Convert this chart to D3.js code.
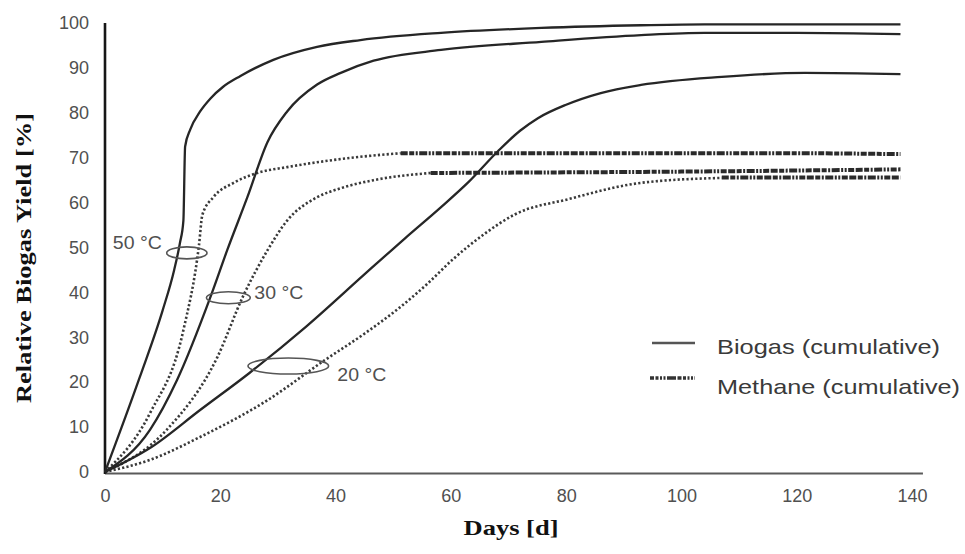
<!DOCTYPE html>
<html>
<head>
<meta charset="utf-8">
<script src="https://cdn.jsdelivr.net/npm/d3@7"></script>
<style>
  body { margin: 0; background: #fff; }
  svg { display: block; }
</style>
</head>
<body>
<div id="chart"></div>
<script>
// ---- data ----
const xTicks = [0, 20, 40, 60, 80, 100, 120, 140];
const yTicks = [0, 10, 20, 30, 40, 50, 60, 70, 80, 90, 100];

// biogas (solid)
const biogas50Days = [0, 6, 10, 12, 13, 13.6, 13.9, 14.8, 16.5, 18.3, 20.5, 23.5, 29.2, 36.8, 44.3, 58.3, 75.7, 93, 104, 138];
const biogas50 = [0, 21, 36, 45, 51, 56, 72.5, 76.3, 80.3, 83.2, 85.8, 88.2, 91.8, 94.7, 96.2, 97.8, 98.9, 99.5, 99.7, 99.7];
const biogas30Days = [0, 7.8, 12.5, 18.3, 21.2, 24.7, 28.2, 31.6, 36.8, 40.9, 46.6, 58.3, 75.7, 93, 104, 120, 138];
const biogas30 = [0, 9.4, 20.5, 39, 49.4, 61.2, 73.5, 80.3, 86.3, 88.9, 91.6, 94, 95.8, 97.3, 97.8, 97.8, 97.5];
const biogas20Days = [0, 8, 16.5, 25, 35, 45, 52, 58.3, 63, 68.2, 72, 75.1, 80, 86, 93, 107, 121.4, 138];
const biogas20 = [0, 5.5, 13.8, 22, 32.5, 44, 52, 59, 64.5, 71.5, 76, 78.8, 81.8, 84.4, 86.2, 88, 88.9, 88.6];

// methane (dotted part, then dash-dot tail)
const methane50Days = [0, 7.8, 13.6, 16.3, 16.9, 18.8, 22.3, 26.4, 31.6, 39.7, 44.3, 51.3];
const methane50 = [0, 13.1, 31.6, 50.5, 57.3, 61.2, 64.4, 66.6, 67.9, 69.5, 70.2, 71];
const methane50TailDays = [51.3, 118, 138];
const methane50Tail = [71, 71, 70.8];
const methane30Days = [0, 10.7, 19.5, 23.9, 28.2, 31.6, 36.8, 40.9, 46.6, 56.5];
const methane30 = [0, 9.4, 25.6, 39, 49.4, 56, 61.2, 63.2, 65, 66.6];
const methane30TailDays = [56.5, 100, 138];
const methane30Tail = [66.6, 66.9, 67.4];
const methane20Days = [0, 7.8, 16.5, 28.2, 38, 45, 51, 56, 60.3, 65.8, 71, 80.5, 93, 107];
const methane20 = [0, 2.7, 7.8, 16, 24.8, 30.8, 36.5, 42, 47.3, 53, 57.3, 60.8, 64.4, 65.5];
const methane20TailDays = [107, 138];
const methane20Tail = [65.6, 65.6];

// temperature groups: label, ellipse centre (day, %), half width in days
const tempLabels = ["50 °C", "30 °C", "20 °C"];
const tempDay = [14.2, 21.4, 31.8];
const tempValue = [48.8, 38.8, 23.6];
const tempHalfDays = [3.5, 3.8, 7];

const legendLabels = ["Biogas (cumulative)", "Methane (cumulative)"];

// ---- drawing ----
const width = 965, height = 554;
const svg = d3.select("#chart").append("svg")
  .attr("width", width)
  .attr("height", height);

const x = d3.scaleLinear().domain([0, 140]).range([105, 912]);
const y = d3.scaleLinear().domain([0, 100]).range([472, 23]);

const line = d3.line()
  .x(d => x(d[0]))
  .y(d => y(d[1]))
  .curve(d3.curveMonotoneX);

const zip = (a, b) => a.map((v, i) => [v, b[i]]);

const dashDot = "7,1.5,5,1.5,2,1.5,8,1.5,2,1.5,2,1.5,6,1.5";

// axes
const yAxis = d3.axisLeft(y).tickValues(yTicks).tickSize(0).tickPadding(16);
const gy = svg.append("g").attr("transform", `translate(${x(0)},0)`).call(yAxis);
gy.select(".domain").remove();
gy.selectAll("text")
  .attr("font-family", "Liberation Sans, Arial, sans-serif")
  .attr("font-size", 18)
  .attr("fill", "#505050");

const xAxis = d3.axisBottom(x).tickValues(xTicks).tickSize(0).tickPadding(17);
const gx = svg.append("g").attr("transform", `translate(0,${y(0)})`).call(xAxis);
gx.select(".domain").remove();
gx.selectAll("text")
  .attr("font-family", "Liberation Sans, Arial, sans-serif")
  .attr("font-size", 18)
  .attr("fill", "#505050");

svg.append("line")
  .attr("x1", x(0)).attr("x2", x(141.9))
  .attr("y1", y(0) + 1.5).attr("y2", y(0) + 1.5)
  .attr("stroke", "#5a5a5a").attr("stroke-width", 2.2);
svg.append("line")
  .attr("x1", x(0)).attr("x2", x(0))
  .attr("y1", y(0) + 2).attr("y2", y(100))
  .attr("stroke", "#161616").attr("stroke-width", 2.6);

// curves
const solid = [zip(biogas50Days, biogas50), zip(biogas30Days, biogas30), zip(biogas20Days, biogas20)];
const dotted = [zip(methane50Days, methane50), zip(methane30Days, methane30), zip(methane20Days, methane20)];
const tails = [zip(methane50TailDays, methane50Tail), zip(methane30TailDays, methane30Tail), zip(methane20TailDays, methane20Tail)];

svg.append("g").selectAll("path").data(dotted).join("path")
  .attr("d", line)
  .attr("fill", "none")
  .attr("stroke", "#3a3a3a")
  .attr("stroke-width", 2.6)
  .attr("stroke-dasharray", "2.2,2.2");

svg.append("g").selectAll("path").data(tails).join("path")
  .attr("d", line)
  .attr("fill", "none")
  .attr("stroke", "#2a2a2a")
  .attr("stroke-width", 4)
  .attr("stroke-dasharray", dashDot);

svg.append("g").selectAll("path").data(solid).join("path")
  .attr("d", line)
  .attr("fill", "none")
  .attr("stroke", "#262626")
  .attr("stroke-width", 2.3)
  .attr("stroke-linejoin", "round");

// temperature ellipses and labels
const ry = [6, 6, 8];
svg.append("g").selectAll("ellipse").data(tempLabels).join("ellipse")
  .attr("cx", (d, i) => x(tempDay[i]))
  .attr("cy", (d, i) => y(tempValue[i]))
  .attr("rx", (d, i) => x(tempHalfDays[i]) - x(0))
  .attr("ry", (d, i) => ry[i])
  .attr("fill", "none")
  .attr("stroke", "#555")
  .attr("stroke-width", 1.6);

const labelDx = [-74, 26, 49];
const labelDy = [-10, -5, 9];
svg.append("g").selectAll("text").data(tempLabels).join("text")
  .attr("x", (d, i) => x(tempDay[i]) + labelDx[i])
  .attr("y", (d, i) => y(tempValue[i]) + labelDy[i])
  .attr("dominant-baseline", "central")
  .attr("font-family", "Liberation Sans, Arial, sans-serif")
  .attr("font-size", 18)
  .attr("fill", "#505050")
  .attr("textLength", 49)
  .attr("lengthAdjust", "spacingAndGlyphs")
  .text(d => d);

// legend
const legend = svg.append("g");
legend.append("line")
  .attr("x1", 652).attr("x2", 695).attr("y1", 343).attr("y2", 343)
  .attr("stroke", "#555").attr("stroke-width", 2.6);
legend.append("line")
  .attr("x1", 650).attr("x2", 695).attr("y1", 378).attr("y2", 378)
  .attr("stroke", "#333").attr("stroke-width", 3.4)
  .attr("stroke-dasharray", "4,1.5,3,1.5,2,1.5,2,1.5,9,1.5");
legend.selectAll("text").data(legendLabels).join("text")
  .attr("x", 717)
  .attr("y", (d, i) => 346 + i * 40)
  .attr("dominant-baseline", "central")
  .attr("font-family", "Liberation Sans, Arial, sans-serif")
  .attr("font-size", 21)
  .attr("fill", "#3a3a3a")
  .attr("textLength", (d, i) => [223, 243][i])
  .attr("lengthAdjust", "spacingAndGlyphs")
  .text(d => d);

// axis titles
svg.append("text")
  .attr("transform", "translate(31,258) rotate(-90)")
  .attr("text-anchor", "middle")
  .attr("font-family", "Liberation Serif, Times New Roman, serif")
  .attr("font-weight", "bold")
  .attr("font-size", 22)
  .attr("fill", "#111")
  .attr("textLength", 290)
  .attr("lengthAdjust", "spacingAndGlyphs")
  .text("Relative Biogas Yield [%]");

svg.append("text")
  .attr("x", 511)
  .attr("y", 535)
  .attr("text-anchor", "middle")
  .attr("font-family", "Liberation Serif, Times New Roman, serif")
  .attr("font-weight", "bold")
  .attr("font-size", 21)
  .attr("fill", "#111")
  .attr("textLength", 95)
  .attr("lengthAdjust", "spacingAndGlyphs")
  .text("Days [d]");
</script>
</body>
</html>
